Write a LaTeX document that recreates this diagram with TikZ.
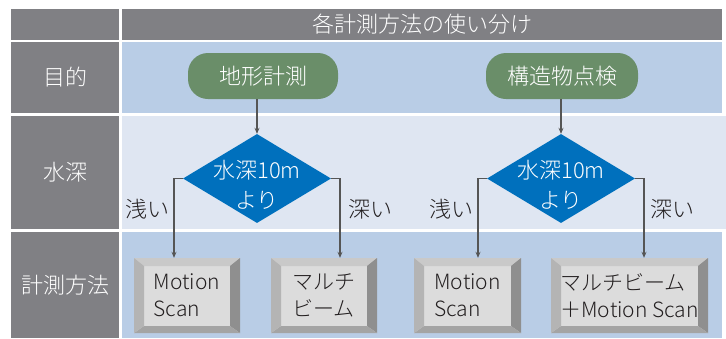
\documentclass[tikz,border=0pt]{standalone}
\usepackage{fontspec}
\setmainfont{Noto Sans CJK JP}[UprightFont=* Light]
\usetikzlibrary{shapes.geometric,arrows.meta}
\definecolor{grisCab}{HTML}{808084}
\definecolor{azulFila}{HTML}{B9CDE6}
\definecolor{azulClaro}{HTML}{DFE6F2}
\definecolor{verde}{HTML}{6A8E69}
\definecolor{azulRombo}{HTML}{0070BD}
\definecolor{caraBoton}{HTML}{DCDCDC}
\definecolor{biselSup}{HTML}{C9C9C9}
\definecolor{biselIzq}{HTML}{B4B4B4}
\definecolor{biselDer}{HTML}{8F8F8F}
\definecolor{biselInf}{HTML}{A4A4A4}
\definecolor{flechaGris}{HTML}{555555}
\definecolor{texto}{HTML}{231F20}
\tikzset{
  grande/.style={font=\fontsize{22}{30}\selectfont},
  rotulo/.style={grande, text=white},
  rama/.style={grande, text=texto},
  pildora/.style={rotulo, fill=verde, rounded corners=20pt, minimum width=150pt, minimum height=46pt, inner sep=0pt},
  rombo/.style={diamond, fill=azulRombo, minimum width=148pt, minimum height=89pt, inner sep=0pt},
  boton/.style={rectangle, fill=caraBoton, minimum width=#1, minimum height=75pt, inner sep=0pt,
    align=left, text=texto, font=\fontsize{21}{27}\selectfont,
    path picture={
      \path (path picture bounding box.north west) coordinate (a)
            (path picture bounding box.north east) coordinate (b)
            (path picture bounding box.south east) coordinate (c)
            (path picture bounding box.south west) coordinate (d);
      \fill[biselSup] (a) -- (b) -- ([shift={(-10pt,-8pt)}]b) -- ([shift={(10pt,-8pt)}]a) -- cycle;
      \fill[biselDer] (b) -- (c) -- ([shift={(-10pt,7pt)}]c) -- ([shift={(-10pt,-8pt)}]b) -- cycle;
      \fill[biselInf] (c) -- (d) -- ([shift={(10pt,7pt)}]d) -- ([shift={(-10pt,7pt)}]c) -- cycle;
      \fill[biselIzq] (d) -- (a) -- ([shift={(10pt,-8pt)}]a) -- ([shift={(10pt,7pt)}]d) -- cycle;
    }},
  flecha/.style={draw=flechaGris, line width=1.6pt, -{Stealth[length=6pt,width=5pt]}}
}
\begin{document}
\begin{tikzpicture}[x=1pt, y=-1pt]
  \useasboundingbox (0,0) rectangle (726,338);
  % Cabecera
  \fill[grisCab] (11,9) rectangle (119,40);
  \fill[grisCab] (122,9) rectangle (722,40);
  \node[rotulo] (titulo) at (422,24.5) {各計測方法の使い分け};
  % Fila 1
  \fill[grisCab] (11,42) rectangle (119,113);
  \fill[azulFila] (122,42) rectangle (722,113);
  \node[rotulo] (objetivo) at (65,77.5) {目的};
  % Fila 2
  \fill[grisCab] (11,116) rectangle (119,229);
  \fill[azulClaro] (122,116) rectangle (726,229);
  \node[rotulo] (profundidad) at (65,172.5) {水深};
  % Fila 3
  \fill[grisCab] (11,232) rectangle (119,338);
  \fill[azulFila] (122,232) rectangle (722,338);
  \node[rotulo] (metodo) at (65,285) {計測方法};

  % Primera columna
  \node[pildora] (p1) at (263,76) {地形計測};
  \node[rombo, label={[rotulo, align=center, yshift=-6pt]center:水深10m\\より}] (d1) at (257,178.5) {};
  \node[boton=106pt] (b1) at (187,295.5) {Motion\\Scan};
  \node[boton=106pt] (b2) at (324,295.5) {マルチ\\ビーム};
  \node[rama] (s1) at (147,209) {浅い};
  \node[rama] (h1) at (370,209) {深い};
  \draw[flecha] (p1.south -| d1.north) -- (d1.north);
  \draw[flecha] (d1.west) -| ([xshift=-13pt]b1.north);
  \draw[flecha] (d1.east) -| ([xshift=16pt]b2.north);

  % Segunda columna
  \node[pildora, minimum width=152pt] (p2) at (562,76) {構造物点検};
  \node[rombo, label={[rotulo, align=center, yshift=-6pt]center:水深10m\\より}] (d2) at (561,178.5) {};
  \node[boton=107pt] (b3) at (467.5,295.5) {Motion\\Scan};
  \node[boton=157pt] (b4) at (629.5,295.5) {マルチビーム\\＋Motion Scan};
  \node[rama] (s2) at (451,209) {浅い};
  \node[rama] (h2) at (672,209) {深い};
  \draw[flecha] (p2.south -| d2.north) -- (d2.north);
  \draw[flecha] (d2.west) -| ([xshift=10.5pt]b3.north);
  \draw[flecha] (d2.east) -| ([xshift=14.5pt]b4.north);
\end{tikzpicture}
\end{document}
